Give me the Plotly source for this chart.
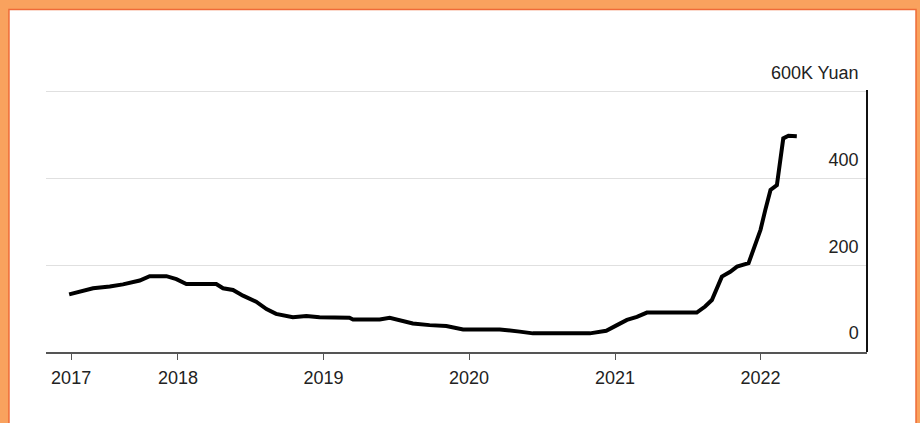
import plotly.graph_objects as go

# ---- data ----
dates = [
    "2017-04-03", "2017-04-30", "2017-06-02", "2017-07-14", "2017-08-16",
    "2017-09-27", "2017-10-14", "2017-10-22", "2017-12-03", "2017-12-28",
    "2018-01-22", "2018-04-07", "2018-04-24", "2018-05-19", "2018-06-13",
    "2018-07-16", "2018-08-11", "2018-09-04", "2018-10-16", "2018-11-19",
    "2018-12-22", "2019-03-07", "2019-03-16", "2019-05-22", "2019-06-16",
    "2019-07-11", "2019-08-13", "2019-09-24", "2019-11-05", "2019-12-17",
    "2020-03-18", "2020-05-07", "2020-06-09", "2020-10-30", "2020-12-10",
    "2021-01-06", "2021-01-31", "2021-02-25", "2021-03-22", "2021-07-25",
    "2021-08-15", "2021-09-01", "2021-09-26", "2021-10-17", "2021-11-03",
    "2021-12-02", "2021-12-14", "2022-01-01", "2022-01-13", "2022-01-26",
    "2022-02-11", "2022-02-19", "2022-02-27", "2022-03-12", "2022-04-02",
]
values = [
    133, 139, 147, 151, 156,
    165, 172, 175, 175, 168,
    157, 157, 147, 143, 130,
    116, 99, 88, 80, 83,
    80, 79, 75, 75, 79,
    74, 66, 62, 60, 52,
    52, 47, 43, 43, 49,
    62, 74, 81, 91, 91,
    105, 120, 174, 185, 197,
    205, 235, 282, 328, 374,
    385, 443, 493, 499, 498,
]

x_tick_vals = ["2017-04-08", "2018-01-01", "2019-01-01", "2020-01-01", "2021-01-01", "2022-01-01"]
x_tick_text = ["2017", "2018", "2019", "2020", "2021", "2022"]
y_tick_vals = [0, 200, 400, 600]
y_tick_text = ["0", "200", "400", "600K Yuan"]

FONT = "Liberation Sans, Arial, Helvetica, sans-serif"
ORANGE = "#F9A25E"
BORDER = "#EF6B38"

fig = go.Figure()
fig.add_trace(go.Scatter(
    x=dates, y=values, mode="lines",
    line=dict(color="#000000", width=4, shape="linear"),
    hoverinfo="skip", showlegend=False,
))

# white panel inside the orange frame (plot area spans y 90..352 px)
fig.add_shape(type="rect", xref="paper", yref="paper",
              x0=-0.0451, x1=1.0597, y0=-0.34, y1=1.307,
              line=dict(color=BORDER, width=1.5), fillcolor="white", layer="below")

fig.update_layout(
    width=920, height=423,
    margin=dict(l=46, r=53, t=90, b=71),
    paper_bgcolor=ORANGE, plot_bgcolor="white",
    font=dict(family=FONT, size=18, color="#222222"),
    xaxis=dict(
        type="date", range=["2017-02-04", "2022-09-25"],
        tickmode="array", tickvals=x_tick_vals, ticktext=x_tick_text,
        showgrid=False, zeroline=False,
        showline=True, linecolor="#555555", linewidth=1.5,
        ticks="outside", ticklen=6, tickcolor="#555555", tickwidth=1.2,
        ticklabelstandoff=3,
        tickfont=dict(family=FONT, size=18, color="#222222"),
    ),
    yaxis=dict(
        side="left", anchor="free", position=1.0, range=[0, 604.6],
        tickmode="array", tickvals=y_tick_vals, ticktext=y_tick_text,
        showgrid=True, gridcolor="#E0E0E0", gridwidth=1.2,
        zeroline=False,
        showline=True, linecolor="#111111", linewidth=1.5,
        ticks="", ticklabelposition="outside",
        ticklabelshift=-19, ticklabelstandoff=4,
        tickfont=dict(family=FONT, size=18, color="#222222"),
    ),
)

fig.write_html("out.html")
